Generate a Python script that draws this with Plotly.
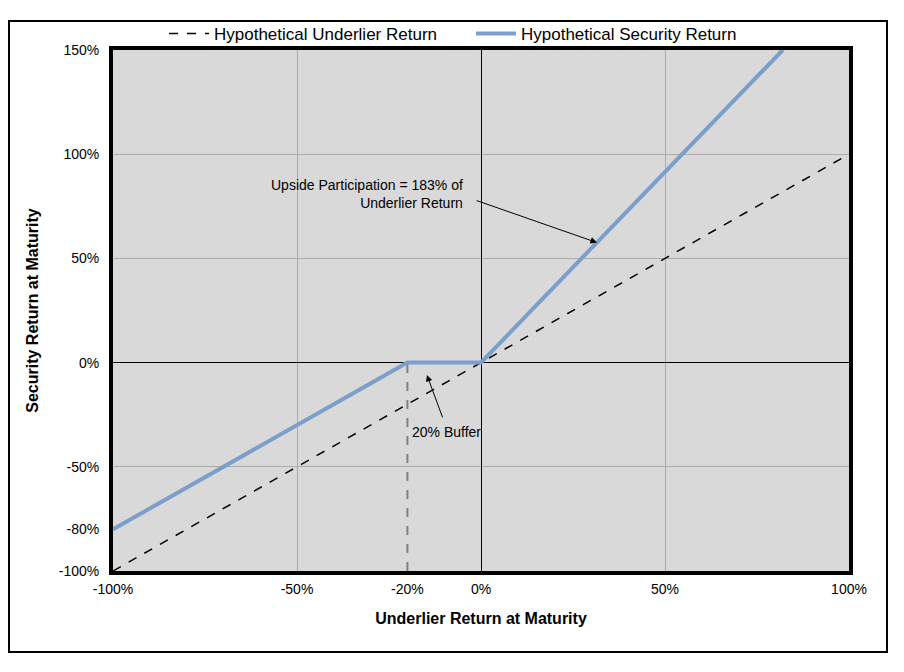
import plotly.graph_objects as go

# Data (percent)
underlier_x = [-100, 100]
underlier_y = [-100, 100]
security_x = [-100, -20, 0, 82]
security_y = [-80, 0, 0, 150]
buffer_x = [-20, -20]
buffer_y = [-100, 0]

x_tickvals = [-100, -50, -20, 0, 50, 100]
x_ticktext = ["-100%", "-50%", "-20%", "0%", "50%", "100%"]
y_tickvals = [-100, -80, -50, 0, 50, 100, 150]
y_ticktext = ["-100%", "-80%", "-50%", "0%", "50%", "100%", "150%"]
x_grid = [-50, 50]
y_grid = [-50, 50, 100]

fig = go.Figure()
fig.add_trace(go.Scatter(x=buffer_x, y=buffer_y, mode="lines",
                         line=dict(color="#808080", width=2, dash="dash"),
                         showlegend=False, hoverinfo="skip"))
fig.add_trace(go.Scatter(x=underlier_x, y=underlier_y, mode="lines",
                         name="Hypothetical Underlier Return", legend="legend",
                         line=dict(color="black", width=1.5, dash="dash")))
fig.add_trace(go.Scatter(x=security_x, y=security_y, mode="lines",
                         name="Hypothetical Security Return", legend="legend2",
                         line=dict(color="#7C9ECB", width=4)))

# page is offset by 8px body margin
OFF = 8
W, H = 896, 664
L, R, T, B = 105, 55, 42, 101
pw, ph = W - L - R, H - T - B

def px(xp):
    return (xp - OFF - L) / pw

def py(yp):
    return 1 - (yp - OFF - T) / ph

fig.add_shape(type="rect", xref="paper", yref="paper",
              x0=px(9), x1=px(887), y0=py(652), y1=py(21),
              line=dict(color="black", width=2), layer="above")

fig.add_annotation(x=31.5, y=57.6, ax=-1.6, ay=78, xref="x", yref="y",
                   axref="x", ayref="y", showarrow=True, arrowhead=2,
                   arrowsize=1.3, arrowwidth=1, arrowcolor="black", text="")
fig.add_annotation(x=-4.3, y=80.7, xref="x", yref="y", xanchor="right",
                   yanchor="middle", showarrow=False, align="right",
                   text="Upside Participation = 183% of<br>Underlier Return",
                   font=dict(family="Liberation Sans, Arial", size=14, color="black"))
fig.add_annotation(x=-14.7, y=-5.9, ax=-10.3, ay=-27, xref="x", yref="y",
                   axref="x", ayref="y", showarrow=True, arrowhead=2,
                   arrowsize=1.3, arrowwidth=1, arrowcolor="black", text="")
fig.add_annotation(x=-19.2, y=-33.3, xref="x", yref="y", xanchor="left",
                   yanchor="middle", showarrow=False, text="20% Buffer",
                   font=dict(family="Liberation Sans, Arial", size=14, color="black"))

axis_font = dict(family="Liberation Sans, Arial", size=14, color="black")
title_font = dict(family="Liberation Sans, Arial", size=16, color="black")
fig.update_xaxes(range=[-100, 100], tickvals=x_tickvals, ticktext=x_ticktext,
                 showgrid=False, zeroline=True, zerolinecolor="black", zerolinewidth=1,
                 showline=True, mirror=True, linecolor="black", linewidth=4,
                 ticks="", tickfont=axis_font, ticklabelstandoff=2,
                 minor=dict(tickvals=x_grid, showgrid=True, gridcolor="#ABABAB", gridwidth=1),
                 title=dict(text="<b>Underlier Return at Maturity</b>",
                            font=title_font, standoff=18))
fig.update_yaxes(range=[-100, 150], tickvals=y_tickvals, ticktext=y_ticktext,
                 showgrid=False, zeroline=True, zerolinecolor="black", zerolinewidth=1,
                 showline=True, mirror=True, linecolor="black", linewidth=4,
                 ticks="", tickfont=axis_font, ticklabelstandoff=7,
                 minor=dict(tickvals=y_grid, showgrid=True, gridcolor="#ABABAB", gridwidth=1),
                 title=dict(text="<b>Security Return at Maturity</b>",
                            font=title_font, standoff=17))

legend_font = dict(family="Liberation Sans Narrow, Arial Narrow, Liberation Sans",
                   size=17, color="black")
fig.update_layout(width=W, height=H,
                  margin=dict(l=L, r=R, t=T, b=B, autoexpand=False),
                  plot_bgcolor="#D9D9D9", paper_bgcolor="white",
                  showlegend=True,
                  legend=dict(orientation="h", x=px(164), xanchor="left",
                              y=py(34), yanchor="middle", font=legend_font,
                              bgcolor="rgba(0,0,0,0)", itemwidth=40),
                  legend2=dict(orientation="h", x=px(471), xanchor="left",
                               y=py(34), yanchor="middle", font=legend_font,
                               bgcolor="rgba(0,0,0,0)", itemwidth=40))

fig.write_html("out.html")
